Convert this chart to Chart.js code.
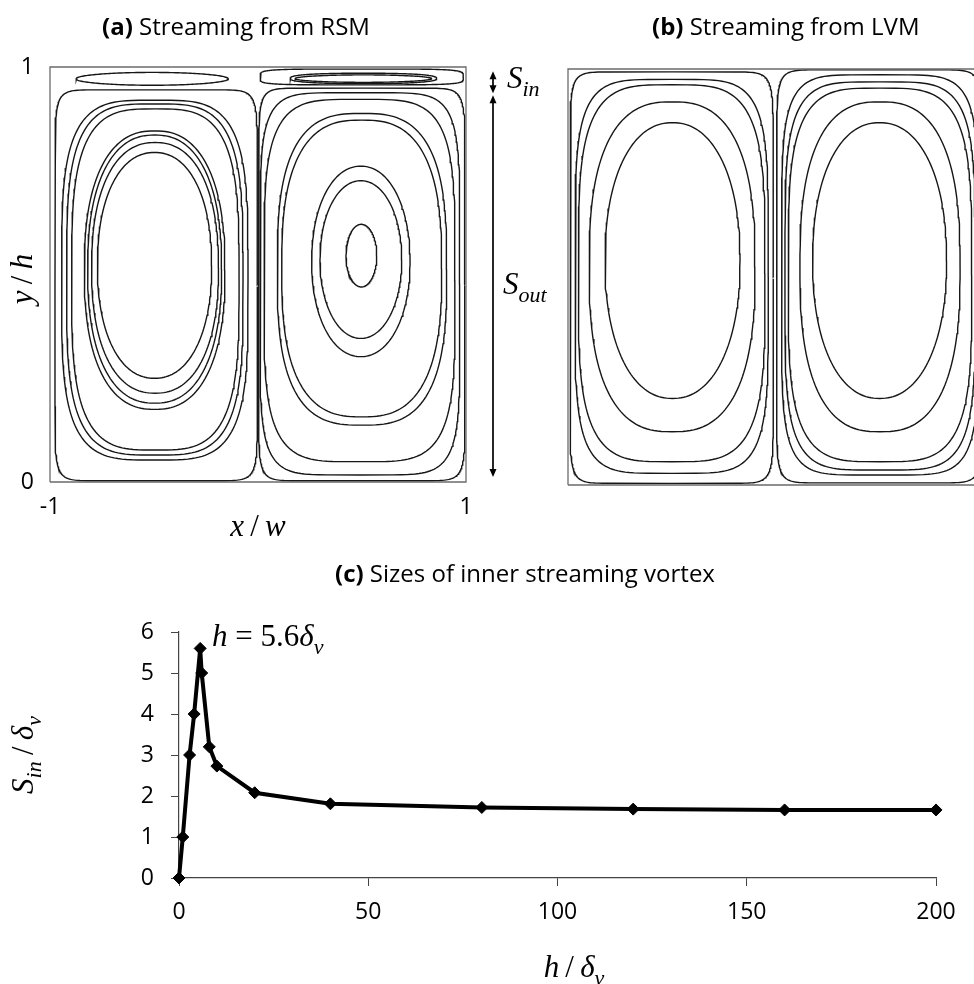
<!DOCTYPE html>
<html>
<head>
<meta charset="utf-8">
<script src="https://cdn.jsdelivr.net/npm/chart.js@4.4.1/dist/chart.umd.min.js"></script>
<style>
  html, body { margin: 0; padding: 0; background: #fff; }
  body { position: relative; width: 974px; height: 984px; overflow: hidden; }
  canvas { position: absolute; }
  #rsm { left: 0; top: 0; }
  #lvm { left: 560px; top: 0; }
  #sizes { left: 0; top: 550px; }
</style>
</head>
<body>
<canvas id="rsm" width="560" height="560"></canvas>
<canvas id="lvm" width="440" height="560"></canvas>
<canvas id="sizes" width="974" height="434"></canvas>
<script>
// (c) inner vortex size vs channel height
var hRatio = [0, 1, 2.8, 4, 5.6, 6, 8, 10, 20, 40, 80, 120, 160, 200];
var sIn    = [0, 1, 3, 4, 5.6, 5.0, 3.2, 2.73, 2.08, 1.81, 1.72, 1.68, 1.66, 1.66];
var xTicksC = [0, 50, 100, 150, 200];
var yTicksC = [0, 1, 2, 3, 4, 5, 6];

// streamlines (a) and (b): [xMin, xMax, yMin, yMax, squareness]
var rsmLeft = [
    [-0.976, -0.003, 0.003, 0.945, 14],
    [-0.944, -0.048, 0.053, 0.920, 3.8],
    [-0.920, -0.072, 0.065, 0.911, 3.6],
    [-0.896, -0.091, 0.077, 0.899, 3.4],
    [-0.835, -0.159, 0.175, 0.846, 2.4],
    [-0.819, -0.175, 0.190, 0.836, 2.35],
    [-0.800, -0.190, 0.214, 0.818, 2.3],
    [-0.772, -0.223, 0.250, 0.794, 2.2],
    [-0.875, -0.143, 0.956, 0.987, 2]
];
var rsmRight = [
    [0.003, 0.995, 0.003, 0.949, 14],
    [0.010, 0.970, 0.017, 0.938, 6],
    [0.029, 0.947, 0.049, 0.922, 4.2],
    [0.093, 0.907, 0.137, 0.888, 2.9],
    [0.114, 0.883, 0.157, 0.872, 2.7],
    [0.258, 0.731, 0.302, 0.761, 2.1],
    [0.298, 0.691, 0.346, 0.726, 2.05],
    [0.423, 0.571, 0.470, 0.621, 2],
    [0.010, 0.987, 0.957, 0.995, 5],
    [0.154, 0.859, 0.960, 0.985, 2.5],
    [0.178, 0.835, 0.963, 0.981, 2]
];
var lvmLeft = [
    [-0.990, -0.013, 0.004, 0.993, 14],
    [-0.966, -0.037, 0.028, 0.975, 4.8],
    [-0.950, -0.053, 0.056, 0.962, 3.8],
    [-0.898, -0.101, 0.128, 0.921, 2.6],
    [-0.822, -0.173, 0.208, 0.871, 2.2]
];
var lvmRight = [
    [0.003, 0.990, 0.005, 0.998, 14],
    [0.027, 0.973, 0.024, 0.986, 5.5],
    [0.043, 0.957, 0.036, 0.969, 4.5],
    [0.059, 0.941, 0.056, 0.954, 3.8],
    [0.115, 0.885, 0.128, 0.921, 2.6],
    [0.176, 0.820, 0.208, 0.871, 2.2]
];
var boxX = [-1, 1, 1, -1, -1];
var boxY = [0, 0, 1, 1, 0];

var SANS = '"Open Sans", sans-serif';
var SERIF = '"Liberation Serif", serif';
var MATH_SIZE = 31;

// closed superellipse through the extents of one streamline
function loop(c) {
    var cx = (c[0] + c[1]) / 2, rx = (c[1] - c[0]) / 2;
    var cy = (c[2] + c[3]) / 2, ry = (c[3] - c[2]) / 2;
    var e = 2 / c[4], pts = [];
    for (var i = 0; i <= 180; i++) {
        var t = i / 180 * 2 * Math.PI;
        var co = Math.cos(t), si = Math.sin(t);
        pts.push({
            x: cx + rx * Math.sign(co) * Math.pow(Math.abs(co), e),
            y: cy + ry * Math.sign(si) * Math.pow(Math.abs(si), e)
        });
    }
    return pts;
}

function streamSets(list) {
    var sets = [{
        data: boxX.map(function (x, i) { return {x: x, y: boxY[i]}; }),
        borderColor: '#6b6b6b', borderWidth: 1.3
    }];
    list.forEach(function (c) {
        sets.push({ data: loop(c), borderColor: '#161616', borderWidth: 1.4 });
    });
    sets.forEach(function (s) { s.showLine = true; s.pointRadius = 0; s.clip = 4; });
    return sets;
}

// text with italic / regular / subscript pieces, centred on x
function mathFonts(size) {
    return {
        i: 'italic ' + size + 'px ' + SERIF,
        r: size + 'px ' + SERIF,
        s: 'italic ' + Math.round(size * 0.72) + 'px ' + SERIF
    };
}
function mathWidth(ctx, parts, size) {
    var f = mathFonts(size), w = 0;
    parts.forEach(function (p) { ctx.font = f[p[1]]; w += ctx.measureText(p[0]).width; });
    return w;
}
function drawMath(ctx, parts, x, y, size) {
    var f = mathFonts(size);
    var cx = x - mathWidth(ctx, parts, size) / 2;
    ctx.textBaseline = 'alphabetic';
    ctx.textAlign = 'left';
    ctx.fillStyle = '#000';
    parts.forEach(function (p) {
        ctx.font = f[p[1]];
        ctx.fillText(p[0], cx, p[1] === 's' ? y + size * 0.25 : y);
        cx += ctx.measureText(p[0]).width;
    });
}

function drawTitle(ctx, tag, rest, x, y) {
    ctx.textBaseline = 'middle';
    ctx.textAlign = 'left';
    ctx.fillStyle = '#000';
    ctx.font = 'bold 24px ' + SANS;
    ctx.fillText(tag, x, y);
    var w = ctx.measureText(tag + ' ').width;
    ctx.font = '24px ' + SANS;
    ctx.fillText(rest, x + w, y);
}

function arrow(ctx, x, y1, y2) {
    ctx.strokeStyle = '#000';
    ctx.fillStyle = '#000';
    ctx.lineWidth = 1.7;
    ctx.beginPath();
    ctx.moveTo(x, y1 + 3);
    ctx.lineTo(x, y2 - 3);
    ctx.stroke();
    [[y1, 1], [y2, -1]].forEach(function (a) {
        ctx.beginPath();
        ctx.moveTo(x, a[0]);
        ctx.lineTo(x - 3.5, a[0] + a[1] * 8);
        ctx.lineTo(x + 3.5, a[0] + a[1] * 8);
        ctx.closePath();
        ctx.fill();
    });
}

var SLASH = '\u2009/\u2009';
var noLegend = { legend: { display: false }, tooltip: { enabled: false } };

new Chart(document.getElementById('rsm'), {
    type: 'scatter',
    data: { datasets: streamSets(rsmLeft.concat(rsmRight)) },
    options: {
        responsive: false, animation: false, devicePixelRatio: 1,
        plugins: noLegend,
        layout: { padding: { top: 67, right: 94, left: 0, bottom: 0 } },
        scales: {
            x: {
                min: -1, max: 1,
                afterBuildTicks: function (s) { s.ticks = [{value: -1}, {value: 1}]; },
                afterFit: function (s) { s.height = 78; },
                grid: { display: false, drawTicks: false },
                border: { display: false },
                ticks: { padding: 12, color: '#000', font: { family: SANS, size: 23 } }
            },
            y: {
                min: 0, max: 1,
                afterBuildTicks: function (s) { s.ticks = [{value: 0}, {value: 1}]; },
                afterFit: function (s) { s.width = 50; },
                grid: { display: false, drawTicks: false },
                border: { display: false },
                ticks: { padding: 16, color: '#000', font: { family: SANS, size: 23 } }
            }
        }
    },
    plugins: [{
        id: 'rsmDecor',
        afterDraw: function (chart) {
            var ctx = chart.ctx, a = chart.chartArea, y = chart.scales.y;
            ctx.save();
            drawTitle(ctx, '(a)', 'Streaming from RSM', a.left + 52, 28);
            drawMath(ctx, [['x', 'i'], [SLASH, 'r'], ['w', 'i']], (a.left + a.right) / 2, 536, MATH_SIZE);
            ctx.translate(32, 279);
            ctx.rotate(-Math.PI / 2);
            drawMath(ctx, [['y', 'i'], [SLASH, 'r'], ['h', 'i']], 0, 0, MATH_SIZE);
            ctx.restore();

            ctx.save();
            var ax = a.right + 27;
            arrow(ctx, ax, y.getPixelForValue(0.99), y.getPixelForValue(0.937));
            arrow(ctx, ax, y.getPixelForValue(0.932), y.getPixelForValue(0.012));
            var pin = [['S', 'i'], ['in', 's']];
            drawMath(ctx, pin, ax + 14 + mathWidth(ctx, pin, MATH_SIZE) / 2, 88, MATH_SIZE);
            var pout = [['S', 'i'], ['out', 's']];
            drawMath(ctx, pout, ax + 10 + mathWidth(ctx, pout, MATH_SIZE) / 2, 294, MATH_SIZE);
            ctx.restore();
        }
    }]
});

new Chart(document.getElementById('lvm'), {
    type: 'scatter',
    data: { datasets: streamSets(lvmLeft.concat(lvmRight)) },
    options: {
        responsive: false, animation: false, devicePixelRatio: 1,
        plugins: noLegend,
        layout: { padding: { top: 69, right: 16, left: 8, bottom: 75 } },
        scales: {
            x: { min: -1, max: 1, display: false },
            y: { min: 0, max: 1, display: false }
        }
    },
    plugins: [{
        id: 'lvmDecor',
        afterDraw: function (chart) {
            var ctx = chart.ctx;
            ctx.save();
            drawTitle(ctx, '(b)', 'Streaming from LVM', 92, 28);
            ctx.restore();
        }
    }]
});

new Chart(document.getElementById('sizes'), {
    type: 'scatter',
    data: {
        datasets: [{
            data: hRatio.map(function (h, i) { return {x: h, y: sIn[i]}; }),
            showLine: true,
            borderColor: '#000',
            backgroundColor: '#000',
            borderWidth: 4,
            pointStyle: 'rectRot',
            pointRadius: 6,
            pointBorderWidth: 1,
            clip: 10
        }]
    },
    options: {
        responsive: false, animation: false, devicePixelRatio: 1,
        plugins: noLegend,
        layout: { padding: { top: 82, right: 38, left: 0, bottom: 0 } },
        scales: {
            x: {
                min: 0, max: 200,
                afterBuildTicks: function (s) { s.ticks = xTicksC.map(function (v) { return {value: v}; }); },
                afterFit: function (s) { s.height = 106; },
                grid: { drawOnChartArea: false, tickLength: 8, color: '#444' },
                border: { color: '#444', width: 1.2 },
                ticks: { padding: 13, color: '#000', font: { family: SANS, size: 23 } }
            },
            y: {
                min: 0, max: 6,
                afterBuildTicks: function (s) { s.ticks = yTicksC.map(function (v) { return {value: v}; }); },
                afterFit: function (s) { s.width = 179; },
                grid: { drawOnChartArea: false, tickLength: 8, color: '#444' },
                border: { color: '#444', width: 1.2 },
                ticks: { padding: 17, color: '#000', font: { family: SANS, size: 23 } }
            }
        }
    },
    plugins: [{
        id: 'sizesDecor',
        afterDraw: function (chart) {
            var ctx = chart.ctx, a = chart.chartArea;
            ctx.save();
            drawTitle(ctx, '(c)', 'Sizes of inner streaming vortex', a.left + 156, 25);
            var peak = [['h', 'i'], [' = 5.6', 'r'], ['δ', 'i'], ['v', 's']];
            drawMath(ctx, peak, 212 + mathWidth(ctx, peak, MATH_SIZE) / 2, 96, MATH_SIZE);
            drawMath(ctx, [['h', 'i'], [SLASH, 'r'], ['δ', 'i'], ['v', 's']], 574, 427, MATH_SIZE);
            ctx.translate(33, 205);
            ctx.rotate(-Math.PI / 2);
            drawMath(ctx, [['S', 'i'], ['in', 's'], [SLASH, 'r'], ['δ', 'i'], ['v', 's']], 0, 0, MATH_SIZE);
            ctx.restore();
        }
    }]
});
</script>
</body>
</html>
